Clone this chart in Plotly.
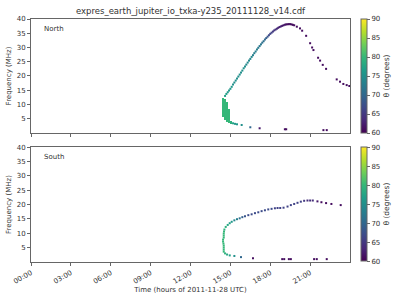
import plotly.graph_objects as go

# ---------------- data ----------------
# North hemisphere: curve points (time in hours, frequency MHz, theta deg)
north_t = [14.6, 14.7, 14.8, 14.9, 15.0, 15.1, 15.2, 15.3, 15.4, 15.5, 15.6, 15.7, 15.8, 15.9,
           16.0, 16.1, 16.2, 16.3, 16.4, 16.5, 16.6, 16.7, 16.8, 16.9, 17.0, 17.1, 17.2,
           17.3, 17.4, 17.5, 17.6, 17.7, 17.8, 17.9, 18.0, 18.1, 18.2, 18.3, 18.4, 18.5,
           18.6, 18.7, 18.8, 18.9, 19.0, 19.1, 19.2, 19.3, 19.4, 19.5, 19.6, 19.7, 19.8,
           20.0, 20.24, 20.4, 20.7, 21.0, 21.15, 21.25, 21.6, 21.75, 21.95,
           22.2, 23.0, 23.25, 23.5, 23.75, 23.95,
           15.2, 15.35, 15.5, 15.85, 16.5, 17.2, 19.1, 19.2, 22.0, 22.25]
north_f = [13.0, 13.7, 14.3, 14.9, 15.5, 16.2, 17.0, 17.7, 18.4, 19.1, 19.8, 20.5, 21.2, 21.9,
           22.7, 23.3, 24.0, 24.7, 25.4, 26.0, 26.7, 27.3, 28.0, 28.6, 29.3, 29.9, 30.5,
           31.1, 31.7, 32.2, 32.8, 33.3, 33.8, 34.3, 34.8, 35.2, 35.6, 36.0, 36.3, 36.6,
           36.9, 37.2, 37.4, 37.6, 37.8, 38.0, 38.1, 38.15, 38.2, 38.2, 38.1, 37.95, 37.8,
           37.3, 36.7, 35.9, 34.1, 31.5, 30.0, 29.1, 26.4, 25.4, 23.9,
           22.5, 18.8, 18.0, 17.2, 16.8, 16.5,
           3.4, 3.2, 3.05, 2.8, 2.0, 1.65, 1.3, 1.3, 1.0, 1.0]
north_theta = [77, 77, 76, 76, 76, 76, 75, 75, 75, 75, 75, 75, 75, 75,
               75, 75, 74, 74, 74, 74, 74, 73, 73, 73, 73, 72, 72,
               72, 71, 71, 70, 69, 68, 67, 66, 66, 65, 65, 64, 64,
               63, 63, 63, 62, 62, 62, 61, 61, 61, 61, 61, 61, 61,
               61, 61, 61, 61, 61, 61, 61, 61, 61, 61,
               61, 61, 61, 61, 61, 61,
               77, 76, 76, 75, 70, 62, 61, 61, 61, 61]

# North dense emission block (columns: time, low freq, high freq, theta)
nblock_t = [14.48, 14.63, 14.78, 14.93, 15.08]
nblock_flo = [5.7, 4.5, 3.8, 3.4, 3.2]
nblock_fhi = [12.4, 12.0, 11.0, 8.5, 4.2]
nblock_theta = [80, 80, 80, 80, 79]

# South hemisphere
south_t = [14.5, 14.5, 14.5, 14.5, 14.48, 14.45, 14.45, 14.5, 14.5, 14.5, 14.52, 14.55,
           14.65, 14.8, 14.95, 15.1, 15.3, 15.5, 15.7, 15.9, 16.1, 16.35, 16.6, 16.85,
           17.1, 17.35, 17.6, 17.85, 18.1, 18.35, 18.55, 18.75, 19.0, 19.3, 19.55, 19.8,
           20.05, 20.3, 20.55, 20.8, 21.0, 21.2, 21.55, 21.85, 22.2, 22.6, 23.3,
           14.6, 14.75, 14.95, 15.3, 15.8, 16.7, 18.9, 19.05, 19.4, 19.55, 21.3, 21.5, 22.25]
south_f = [3.6, 4.3, 5.0, 5.7, 6.4, 7.1, 7.8, 8.5, 9.2, 9.9, 10.6, 11.3,
           12.2, 12.9, 13.5, 14.0, 14.5, 14.9, 15.2, 15.6, 15.9, 16.3, 16.6, 17.0,
           17.3, 17.7, 18.0, 18.3, 18.5, 18.7, 18.8, 18.8, 18.9, 19.3, 19.8, 20.2,
           20.6, 21.0, 21.3, 21.4, 21.4, 21.4, 21.1, 20.8, 20.5, 20.2, 19.8,
           3.0, 2.6, 2.3, 2.1, 1.7, 1.3, 1.0, 1.0, 1.0, 1.0, 1.0, 1.0, 1.0]
south_theta = [80, 80, 80, 80, 80, 80, 80, 80, 80, 80, 80, 79,
               79, 78, 77, 76, 74, 73, 71, 69, 68, 67, 67, 67,
               67, 67, 67, 67, 67, 66, 66, 66, 66, 66, 66, 66,
               66, 66, 65, 64, 64, 64, 62, 61, 61, 61, 61,
               79, 78, 77, 75, 70, 61, 61, 61, 61, 61, 61, 61, 61]

tick_vals = [0, 3, 6, 9, 12, 15, 18, 21]
tick_text = ["00:00", "03:00", "06:00", "09:00", "12:00", "15:00", "18:00", "21:00"]
title_text = "expres_earth_jupiter_io_txka-y235_20111128_v14.cdf"
panel_names = ["North", "South"]

# ---------------- figure ----------------
TXT = "#333333"
AX = "#666666"
FONT = "DejaVu Sans"
fig = go.Figure()

cb_common = dict(
    thickness=6, thicknessmode="pixels", lenmode="fraction", len=0.47,
    x=1.034, xanchor="left", yanchor="top", xpad=0, ypad=0,
    outlinecolor=AX, outlinewidth=1,
    tickvals=[60, 65, 70, 75, 80, 85, 90], ticks="outside", ticklen=3,
    tickcolor=AX, tickfont=dict(size=7, color=TXT, family=FONT),
    title=dict(text="θ (degrees)", side="right", font=dict(size=7.5, color=TXT, family=FONT)),
)

marker_common = dict(symbol="square", size=2.0, colorscale="Viridis", cmin=60, cmax=90,
                     line=dict(width=0))

# north bars (dense block)
fig.add_trace(go.Bar(
    x=nblock_t, y=[h - l for h, l in zip(nblock_fhi, nblock_flo)], base=nblock_flo,
    width=0.15, xaxis="x", yaxis="y",
    marker=dict(color=nblock_theta, colorscale="Viridis", cmin=60, cmax=90,
                line=dict(width=0)),
    showlegend=False, hoverinfo="skip"))

fig.add_trace(go.Scatter(
    x=north_t, y=north_f, mode="markers", xaxis="x", yaxis="y",
    marker=dict(color=north_theta, showscale=True,
                colorbar=dict(cb_common, y=1.0), **marker_common),
    showlegend=False))

fig.add_trace(go.Scatter(
    x=south_t, y=south_f, mode="markers", xaxis="x2", yaxis="y2",
    marker=dict(color=south_theta, showscale=True,
                colorbar=dict(cb_common, y=0.473), **marker_common),
    showlegend=False))

axis_common = dict(
    showline=True, linecolor=AX, linewidth=1, mirror=True,
    ticks="outside", ticklen=3, tickcolor=AX, showgrid=False, zeroline=False,
    tickfont=dict(size=7, color=TXT, family=FONT),
)

fig.update_layout(
    width=400, height=300,
    margin=dict(l=31, r=50, t=19, b=38, autoexpand=False),
    plot_bgcolor="white", paper_bgcolor="white",
    bargap=0,
    font=dict(family=FONT, color=TXT),
    title=dict(text=title_text, x=(31 + 350) / 2 / 400, xanchor="center",
               y=1 - 11 / 300, yanchor="middle",
               font=dict(size=8.5, color=TXT, family=FONT)),
    xaxis=dict(axis_common, domain=[0, 1], range=[0, 24], tickvals=tick_vals,
               showticklabels=False, anchor="y"),
    yaxis=dict(axis_common, domain=[0.531, 1], range=[0, 40],
               tickvals=[5, 10, 15, 20, 25, 30, 35, 40], anchor="x",
               title=dict(text="Frequency (MHz)", standoff=4,
                          font=dict(size=7, color=TXT, family=FONT))),
    xaxis2=dict(axis_common, domain=[0, 1], range=[0, 24], tickvals=tick_vals,
                ticktext=tick_text, tickangle=-30, anchor="y2",
                title=dict(text="Time (hours of 2011-11-28 UTC)", standoff=2,
                           font=dict(size=7, color=TXT, family=FONT))),
    yaxis2=dict(axis_common, domain=[0, 0.473], range=[0, 40],
                tickvals=[5, 10, 15, 20, 25, 30, 35, 40], anchor="x2",
                title=dict(text="Frequency (MHz)", standoff=4,
                           font=dict(size=7, color=TXT, family=FONT))),
    annotations=[
        dict(text=panel_names[0], xref="x domain", yref="y domain", x=0.035, y=0.91,
             xanchor="left", yanchor="middle", showarrow=False,
             font=dict(size=7, color=TXT, family=FONT)),
        dict(text=panel_names[1], xref="x2 domain", yref="y2 domain", x=0.035, y=0.91,
             xanchor="left", yanchor="middle", showarrow=False,
             font=dict(size=7, color=TXT, family=FONT)),
    ],
)

fig.write_html("out.html")
